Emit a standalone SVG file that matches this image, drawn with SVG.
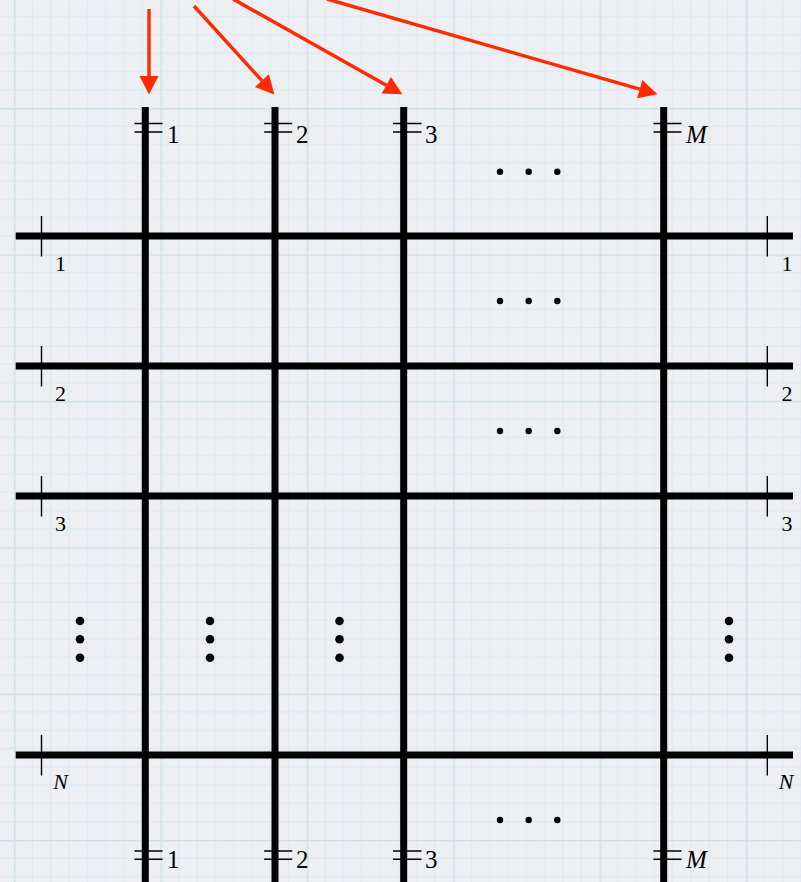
<svg xmlns="http://www.w3.org/2000/svg" width="801" height="882" viewBox="0 0 801 882">
<style>
.wire{stroke:#000;stroke-width:7;fill:none}
.tick{stroke:#000;stroke-width:1.4;fill:none}
.lbl{font-family:"Liberation Serif","DejaVu Serif",serif;fill:#000}
.top{font-size:25px}
.side{font-size:22px;text-anchor:middle}
.it{font-style:italic}
.arrow{stroke:#ff2a00;stroke-width:3.4;fill:none;marker-end:url(#head)}
.dot{fill:#000}
</style>
<defs>
<pattern id="grid" patternUnits="userSpaceOnUse" x="14" y="108" width="146.4" height="146.4">
<rect width="146.4" height="146.4" fill="#edeff2"/>
<g stroke="#dfe8ed" stroke-width="1">
<path d="M18.3 0V146.4M36.6 0V146.4M54.9 0V146.4M73.2 0V146.4M91.5 0V146.4M109.8 0V146.4M128.1 0V146.4"/>
<path d="M0 18.3H146.4M0 36.6H146.4M0 54.9H146.4M0 73.2H146.4M0 91.5H146.4M0 109.8H146.4M0 128.1H146.4"/>
</g>
<path d="M0.75 0V146.4M0 0.75H146.4" stroke="#cfe1e7" stroke-width="1.5"/>
</pattern>
<marker id="head" markerUnits="userSpaceOnUse" markerWidth="20" markerHeight="22" refX="0" refY="10" orient="auto" overflow="visible">
<path d="M0,0.5 L18.5,10 L0,19.5 z" fill="#ff2a00"/>
</marker>
</defs>
<rect width="801" height="882" fill="url(#grid)"/>

<g id="col-1">
<line class="wire" x1="145.3" y1="107" x2="145.3" y2="882"/>
<path class="tick" d="M134.5 123.5H162.5M134.5 132H162.5M134.5 851H162.5M134.5 859.3H162.5"/>
<text class="lbl top" x="167" y="143">1</text>
<text class="lbl top" x="167" y="868">1</text>
</g>
<g id="col-2">
<line class="wire" x1="275" y1="107" x2="275" y2="882"/>
<path class="tick" d="M264.2 123.5H292.2M264.2 132H292.2M264.2 851H292.2M264.2 859.3H292.2"/>
<text class="lbl top" x="296" y="143">2</text>
<text class="lbl top" x="296" y="868">2</text>
</g>
<g id="col-3">
<line class="wire" x1="403.7" y1="107" x2="403.7" y2="882"/>
<path class="tick" d="M393 123.5H421.5M393 132H421.5M393 851H421.5M393 859.3H421.5"/>
<text class="lbl top" x="425" y="143">3</text>
<text class="lbl top" x="425" y="868">3</text>
</g>
<g id="col-M">
<line class="wire" x1="663.7" y1="107" x2="663.7" y2="882"/>
<path class="tick" d="M653.5 123.5H681.5M653.5 132H681.5M653.5 851H681.5M653.5 859.3H681.5"/>
<text class="lbl top it" x="686" y="143">M</text>
<text class="lbl top it" x="686" y="868">M</text>
</g>

<g id="row-1">
<line class="wire" x1="15.7" y1="236" x2="793" y2="236"/>
<path class="tick" d="M41.5 216V256.5M767.3 216V256.5"/>
<text class="lbl side" x="60.5" y="271">1</text>
<text class="lbl side" x="787" y="271">1</text>
</g>
<g id="row-2">
<line class="wire" x1="15.7" y1="366" x2="793" y2="366"/>
<path class="tick" d="M41.5 346V386.5M767.3 346V386.5"/>
<text class="lbl side" x="60.5" y="401">2</text>
<text class="lbl side" x="787" y="401">2</text>
</g>
<g id="row-3">
<line class="wire" x1="15.7" y1="496" x2="793" y2="496"/>
<path class="tick" d="M41.5 476V516.5M767.3 476V516.5"/>
<text class="lbl side" x="60.5" y="531">3</text>
<text class="lbl side" x="787" y="531">3</text>
</g>
<g id="row-N">
<line class="wire" x1="15.7" y1="755" x2="793" y2="755"/>
<path class="tick" d="M41.5 735V775.5M767.3 735V775.5"/>
<text class="lbl side it" x="60.5" y="789">N</text>
<text class="lbl side it" x="786" y="789">N</text>
</g>

<g id="hdots">
<circle class="dot" cx="500" cy="171.7" r="3.2"/><circle class="dot" cx="528.7" cy="171.7" r="3.2"/><circle class="dot" cx="557.3" cy="171.7" r="3.2"/>
<circle class="dot" cx="500" cy="301" r="3.2"/><circle class="dot" cx="528.7" cy="301" r="3.2"/><circle class="dot" cx="557.3" cy="301" r="3.2"/>
<circle class="dot" cx="500" cy="431" r="3.2"/><circle class="dot" cx="528.7" cy="431" r="3.2"/><circle class="dot" cx="557.3" cy="431" r="3.2"/>
<circle class="dot" cx="500" cy="820" r="3.2"/><circle class="dot" cx="528.7" cy="820" r="3.2"/><circle class="dot" cx="557.3" cy="820" r="3.2"/>
</g>
<g id="vdots">
<circle class="dot" cx="80" cy="621" r="4.3"/><circle class="dot" cx="80" cy="639.3" r="4.3"/><circle class="dot" cx="80" cy="657.7" r="4.3"/>
<circle class="dot" cx="210" cy="621" r="4.3"/><circle class="dot" cx="210" cy="639.3" r="4.3"/><circle class="dot" cx="210" cy="657.7" r="4.3"/>
<circle class="dot" cx="339.5" cy="621" r="4.3"/><circle class="dot" cx="339.5" cy="639.3" r="4.3"/><circle class="dot" cx="339.5" cy="657.7" r="4.3"/>
<circle class="dot" cx="729" cy="621" r="4.3"/><circle class="dot" cx="729" cy="639.3" r="4.3"/><circle class="dot" cx="729" cy="657.7" r="4.3"/>
</g>

<g id="connectors">
<line class="arrow" x1="149" y1="9" x2="149" y2="76"/>
<line class="arrow" x1="194" y1="6" x2="261.9" y2="80.7"/>
<line class="arrow" x1="233" y1="-1" x2="386.3" y2="85.2"/>
<line class="arrow" x1="327" y1="-1" x2="639.7" y2="89.1"/>
</g>
</svg>
